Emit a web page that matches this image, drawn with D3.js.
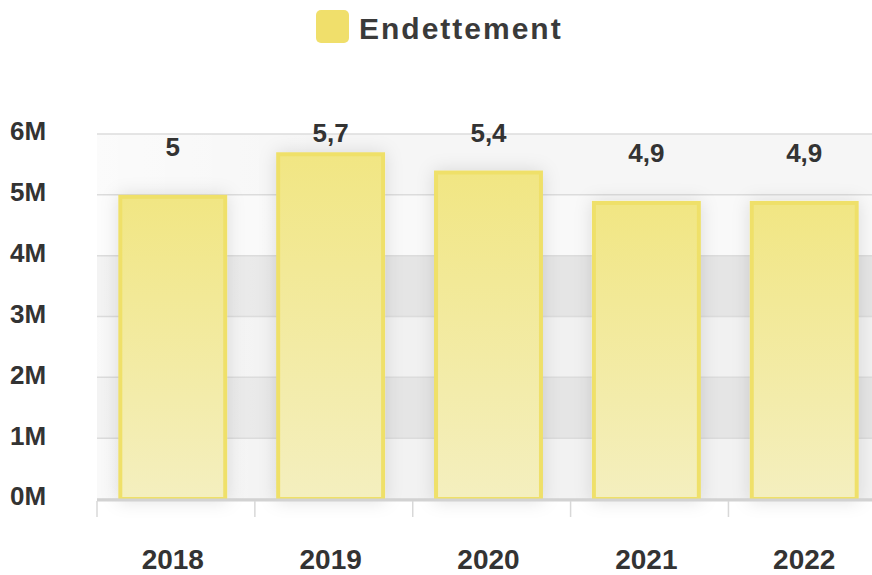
<!DOCTYPE html>
<html>
<head>
<meta charset="utf-8">
<script src="https://cdn.jsdelivr.net/npm/d3@7"></script>
<style>
  html, body { margin: 0; padding: 0; background: #ffffff; }
  svg { display: block; font-family: "Liberation Sans", Arial, sans-serif; }
</style>
</head>
<body>
<svg id="chart" width="872" height="575"></svg>
<script>
// Annual debt level, in millions
const years = ["2018", "2019", "2020", "2021", "2022"];
const debt = [5.0, 5.7, 5.4, 4.9, 4.9];
const valueLabels = ["5", "5,7", "5,4", "4,9", "4,9"];
const yTicks = [0, 1, 2, 3, 4, 5, 6];
const seriesName = "Endettement";

const svg = d3.select("#chart");
const W = 872, H = 575;
const plot = { left: 97, right: 880, top: 134, bottom: 499 };

const x = d3.scaleBand().domain(years).range([plot.left, plot.right]).paddingInner(0.31).paddingOuter(0.135);
const y = d3.scaleLinear().domain([0, 6]).range([plot.bottom, plot.top]);
const step = x.step();

const defs = svg.append("defs");

// bar fill: deeper yellow at the top fading toward the base
const barGrad = defs.append("linearGradient").attr("id", "barGrad")
  .attr("x1", 0).attr("y1", 0).attr("x2", 0).attr("y2", 1);
barGrad.append("stop").attr("offset", "0%").attr("stop-color", "#f1e683");
barGrad.append("stop").attr("offset", "100%").attr("stop-color", "#f4efbf");

// horizontal shading of the background bands
const bandGrad = defs.append("linearGradient").attr("id", "bandGrad")
  .attr("x1", 0).attr("y1", 0).attr("x2", 1).attr("y2", 0);
bandGrad.append("stop").attr("offset", "0%").attr("stop-color", "#ffffff").attr("stop-opacity", 0.55);
bandGrad.append("stop").attr("offset", "30%").attr("stop-color", "#ffffff").attr("stop-opacity", 0);

const shadow = defs.append("filter").attr("id", "barShadow")
  .attr("x", "-30%").attr("y", "-30%").attr("width", "160%").attr("height", "160%");
shadow.append("feDropShadow").attr("dx", 0).attr("dy", 0).attr("stdDeviation", 9)
  .attr("flood-color", "#000").attr("flood-opacity", 0.12);

// alternating background bands between gridlines
const bandFill = ["#f2f2f2", "#e5e5e5", "#f1f1f1", "#e5e5e5", "#f9f9f9", "#f6f6f6"];
const bands = svg.append("g");
d3.range(6).forEach(i => {
  bands.append("rect")
    .attr("x", plot.left).attr("width", W - plot.left)
    .attr("y", y(i + 1)).attr("height", y(i) - y(i + 1))
    .attr("fill", bandFill[i]);
});
bands.append("rect")
  .attr("x", plot.left).attr("width", W - plot.left)
  .attr("y", plot.top).attr("height", plot.bottom - plot.top)
  .attr("fill", "url(#bandGrad)");

// gridlines
svg.append("g").selectAll("line").data(yTicks).join("line")
  .attr("x1", plot.left).attr("x2", W)
  .attr("y1", d => y(d)).attr("y2", d => y(d))
  .attr("stroke", "#dcdcdc").attr("stroke-width", 1.5);

// y axis labels
svg.append("g").selectAll("text").data(yTicks).join("text")
  .attr("x", 10).attr("y", d => y(d) - 3)
  .attr("dy", "0.36em")
  .attr("font-size", 26).attr("font-weight", "bold").attr("fill", "#333333")
  .text(d => d + "M");

// bars
svg.append("g").selectAll("rect").data(debt).join("rect")
  .attr("x", (d, i) => x(years[i]) + 2)
  .attr("width", x.bandwidth() - 4)
  .attr("y", d => y(d) + 2)
  .attr("height", d => y(0) - y(d) - 2)
  .attr("fill", "url(#barGrad)")
  .attr("stroke", "#efe069").attr("stroke-width", 4)
  .attr("filter", "url(#barShadow)");

// x axis baseline and ticks
const xAxis = svg.append("g");
xAxis.append("line").attr("x1", plot.left).attr("x2", W)
  .attr("y1", plot.bottom + 1).attr("y2", plot.bottom + 1)
  .attr("stroke", "#d2d2d2").attr("stroke-width", 3);
xAxis.selectAll("line.tick").data(d3.range(years.length + 1)).join("line").attr("class", "tick")
  .attr("x1", i => plot.left + i * step).attr("x2", i => plot.left + i * step)
  .attr("y1", plot.bottom + 2).attr("y2", plot.bottom + 18)
  .attr("stroke", "#d8d8d8").attr("stroke-width", 1.5);

xAxis.selectAll("text").data(years).join("text")
  .attr("x", d => x(d) + x.bandwidth() / 2)
  .attr("y", 559).attr("dy", "0.36em")
  .attr("text-anchor", "middle")
  .attr("font-size", 28).attr("font-weight", "bold").attr("fill", "#333333")
  .text(d => d);

// value labels above bars, kept inside the plot top
svg.append("g").selectAll("text").data(debt).join("text")
  .attr("x", (d, i) => x(years[i]) + x.bandwidth() / 2)
  .attr("y", d => Math.max(y(d) - 48, plot.top - 1))
  .attr("dy", "0.36em")
  .attr("text-anchor", "middle")
  .attr("font-size", 26).attr("font-weight", "bold").attr("fill", "#333333")
  .text((d, i) => valueLabels[i]);

// legend
const legend = svg.append("g");
legend.append("rect").attr("x", 316).attr("y", 10).attr("width", 33).attr("height", 33)
  .attr("rx", 5).attr("fill", "#f0df6b");
legend.append("text").attr("x", 359).attr("y", 28).attr("dy", "0.36em")
  .attr("font-size", 30).attr("font-weight", "bold").attr("fill", "#3a3a3a")
  .attr("letter-spacing", 2)
  .text(seriesName);
</script>
</body>
</html>
